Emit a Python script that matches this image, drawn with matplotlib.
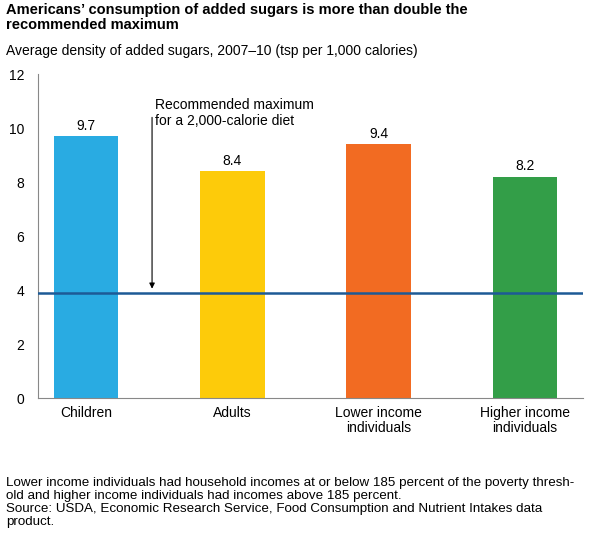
import matplotlib.pyplot as plt

plt.rcParams["font.family"] = ["Liberation Sans", "DejaVu Sans"]

categories = ["Children", "Adults", "Lower income\nindividuals", "Higher income\nindividuals"]
values = [9.7, 8.4, 9.4, 8.2]
colors = ["#29abe2", "#fdcb0a", "#f26b22", "#339e48"]
recommended = 3.9
yticks = [0, 2, 4, 6, 8, 10, 12]

fig = plt.figure(figsize=(5.95, 5.33), dpi=100)
ax = fig.add_axes([0.064, 0.253, 0.916, 0.608])

x = list(range(len(categories)))
ax.bar(x, values, width=0.44, color=colors, zorder=2)
for xi, v in zip(x, values):
    ax.text(xi, v + 0.12, f"{v}", ha="center", va="bottom", fontsize=10)

ax.axhline(recommended, color="#1d5a96", lw=1.8, zorder=3)
ax.annotate("", xy=(0.45, recommended + 0.05), xytext=(0.45, 10.5),
            arrowprops=dict(arrowstyle="-|>", color="black", lw=0.8, mutation_scale=8))
ax.text(0.47, 10.55, "Recommended maximum\nfor a 2,000-calorie diet",
        ha="left", va="center", fontsize=10, linespacing=1.2)

ax.set_xlim(-0.33, 3.4)
ax.set_ylim(0, 12)
ax.set_yticks(yticks)
ax.set_xticks(x)
ax.set_xticklabels(categories, fontsize=10, linespacing=1.05)
ax.tick_params(axis="y", labelsize=10, length=0, pad=10)
ax.tick_params(axis="x", length=0, pad=6)
for s in ["top", "right"]:
    ax.spines[s].set_visible(False)
ax.spines["left"].set_color("#888888")
ax.spines["bottom"].set_color("#888888")

fig.text(0.01, 0.995, "Americans\u2019 consumption of added sugars is more than double the\nrecommended maximum",
         ha="left", va="top", fontsize=10.5, fontweight="bold", linespacing=1.1)
fig.text(0.01, 0.905, "Average density of added sugars, 2007\u201310 (tsp per 1,000 calories)",
         ha="left", va="center", fontsize=10)
fig.text(0.01, 0.01,
         "Lower income individuals had household incomes at or below 185 percent of the poverty thresh-\n"
         "old and higher income individuals had incomes above 185 percent.\n"
         "Source: USDA, Economic Research Service, Food Consumption and Nutrient Intakes data\n"
         "product.",
         ha="left", va="bottom", fontsize=9.6, linespacing=1.1)

fig.savefig("out.png", dpi=100)
